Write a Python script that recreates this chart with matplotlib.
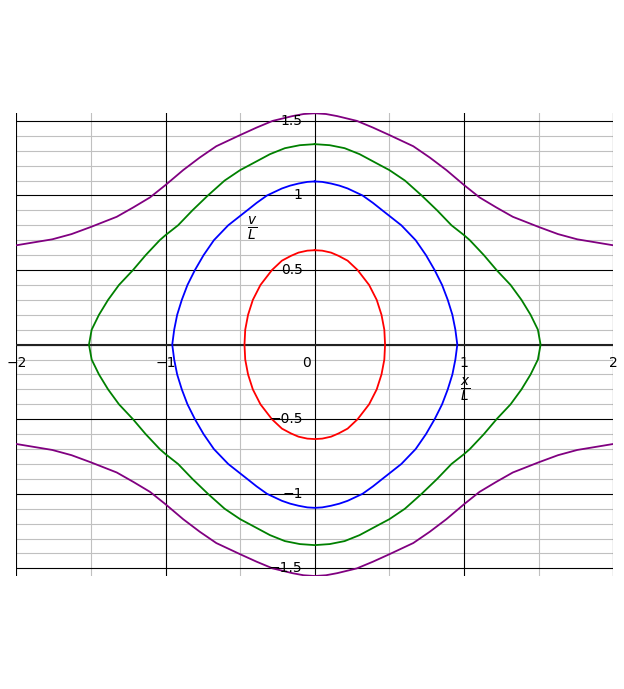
import numpy as np
import matplotlib
matplotlib.use("Agg")
import matplotlib.pyplot as plt

# upper-right quarter of every phase curve (x/L, v/L)
red_x = [0.0, 0.05, 0.109, 0.16, 0.22, 0.287, 0.364, 0.415, 0.447, 0.466, 0.471]
red_v = [0.633, 0.630, 0.617, 0.595, 0.563, 0.50, 0.40, 0.30, 0.20, 0.10, 0.0]

blue_x = [0.0, 0.05, 0.109, 0.165, 0.22, 0.32, 0.39, 0.453, 0.58, 0.676, 0.745, 0.803, 0.853, 0.891, 0.922, 0.942, 0.955]
blue_v = [1.094, 1.091, 1.080, 1.066, 1.047, 1.0, 0.95, 0.9, 0.8, 0.7, 0.6, 0.5, 0.4, 0.3, 0.2, 0.1, 0.0]

green_x = [0.0, 0.1, 0.2, 0.3, 0.438, 0.5, 0.604, 0.716, 0.82, 0.916, 1.0, 1.039, 1.133, 1.218, 1.312, 1.385, 1.446, 1.495, 1.513]
green_v = [1.344, 1.337, 1.317, 1.277, 1.203, 1.17, 1.1, 1.0, 0.9, 0.8, 0.734, 0.7, 0.6, 0.5, 0.4, 0.3, 0.2, 0.1, 0.0]

purple_x = [0.0, 0.075, 0.15, 0.282, 0.39, 0.5, 0.66, 0.771, 0.882, 1.0, 1.104, 1.216, 1.327, 1.5, 1.63, 1.759, 2.0]
purple_v = [1.551, 1.546, 1.532, 1.5, 1.455, 1.405, 1.33, 1.254, 1.17, 1.07, 0.987, 0.92, 0.857, 0.789, 0.741, 0.706, 0.666]

x_ticks = [-2, -1, 1, 2]
y_ticks = [-1.5, -1, -0.5, 0.5, 1, 1.5]


def closed_loop(xs, vs):
    xs = np.array(xs)
    vs = np.array(vs)
    x = np.concatenate([xs, xs[::-1][1:], -xs[1:], -xs[::-1][1:]])
    v = np.concatenate([vs, -vs[::-1][1:], -vs[1:], vs[::-1][1:]])
    return x, v


def open_curve(xs, vs):
    xs = np.array(xs)
    vs = np.array(vs)
    return np.concatenate([-xs[::-1], xs[1:]]), np.concatenate([vs[::-1], vs[1:]])


def lab(v):
    s = ("%g" % abs(v))
    return ("\u2212" + s) if v < 0 else s


fig = plt.figure(figsize=(6.24, 6.89), dpi=100)
ax = fig.add_axes([0.0261, 0.164, 0.9567, 0.6716])
ax.set_xlim(-2, 2)
ax.set_ylim(-1.551, 1.551)
ax.axis("off")

# grid
for k in range(-15, 16):
    yv = k / 10
    if k % 5 == 0:
        ax.axhline(yv, color="black", lw=0.8, zorder=1)
    else:
        ax.axhline(yv, color="#c0c0c0", lw=0.8, zorder=0)
for k in range(-4, 5):
    xv = k / 2
    if k % 2 == 0:
        ax.axvline(xv, color="black", lw=0.8, zorder=1)
    else:
        ax.axvline(xv, color="#c0c0c0", lw=0.8, zorder=0)
ax.axhline(0, color="#222222", lw=1.5, zorder=1)

# curves
x, v = closed_loop(red_x, red_v)
ax.plot(x, v, color="#ff0000", lw=1.3, zorder=3)
x, v = closed_loop(blue_x, blue_v)
ax.plot(x, v, color="#0000ff", lw=1.3, zorder=3)
x, v = closed_loop(green_x, green_v)
ax.plot(x, v, color="#008000", lw=1.3, zorder=3)
x, v = open_curve(purple_x, purple_v)
ax.plot(x, v, color="#800080", lw=1.3, zorder=3)
ax.plot(x, -v, color="#800080", lw=1.3, zorder=3)

# tick labels next to the axes
for t in y_ticks:
    ax.text(-0.082, t, lab(t), ha="right", va="center", fontsize=10, zorder=4)
for t in x_ticks:
    ax.text(t, -0.075, lab(t), ha="center", va="top", fontsize=10, zorder=4)
ax.text(-0.056, -0.075, "0", ha="center", va="top", fontsize=10, zorder=4)

# axis names as fractions
ax.text(-0.418, 0.778, r"$\frac{v}{L}$", ha="center", va="center", fontsize=14, zorder=4)
ax.text(1.01, -0.306, r"$\frac{x}{L}$", ha="center", va="center", fontsize=14, zorder=4)

fig.savefig("out.png", dpi=100)
